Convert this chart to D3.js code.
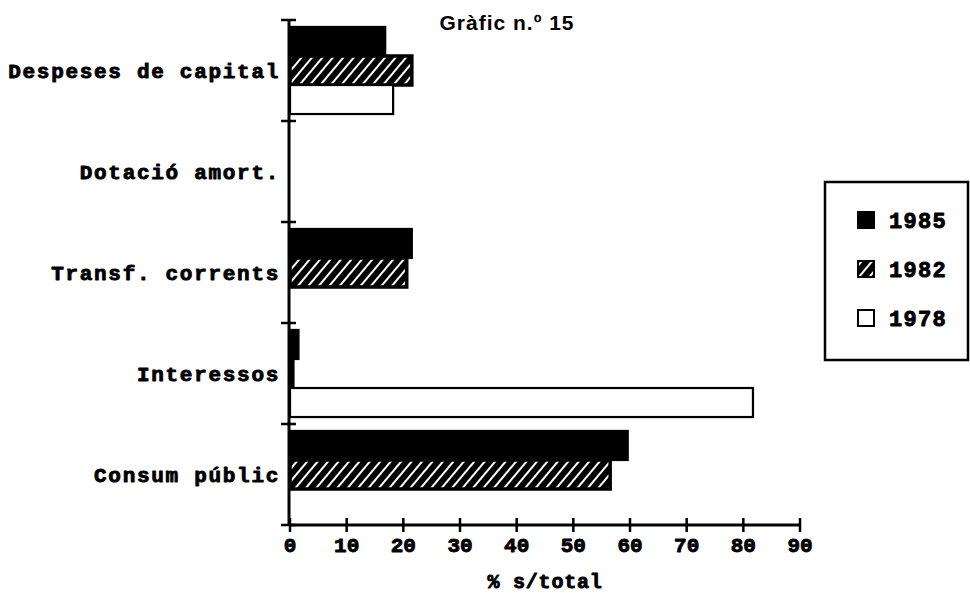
<!DOCTYPE html>
<html><head><meta charset="utf-8">
<script src="https://cdn.jsdelivr.net/npm/d3@7"></script>
<style>body{margin:0;background:#fff}svg{display:block}
.heavy{paint-order:stroke;stroke:#000;stroke-width:0.9px;stroke-linejoin:round}</style>
</head><body>
<svg id="c" width="970" height="593"></svg>
<script>
const categories = ["Despeses de capital","Dotació amort.","Transf. corrents","Interessos","Consum públic"];
const series = ["1985","1982","1978"];
const v1985 = [16.8, null, 21.5, 1.5, 59.6];
const v1982 = [21.5, null, 20.6, 0.5, 56.5];
const v1978 = [18.2, null, null, 81.7, null];
const xTicks = [0,10,20,30,40,50,60,70,80,90];
const title = "Gràfic n.º  15";
const xTitle = "% s/total";

const values = {"1985": v1985, "1982": v1982, "1978": v1978};
const svg = d3.select("#c");
const mono = "'Liberation Mono','DejaVu Sans Mono',monospace";

const x = d3.scaleLinear().domain([0,90]).range([290,800]);
const y = d3.scaleBand().domain(categories).range([20,525]).paddingInner(0).paddingOuter(0);
const sub = d3.scaleBand().domain(series).range([0,y.bandwidth()]).paddingInner(0).paddingOuter(0.24);

const defs = svg.append("defs");
const pat = defs.append("pattern").attr("id","hatch").attr("patternUnits","userSpaceOnUse")
  .attr("width",8).attr("height",8).attr("patternTransform","rotate(40)");
pat.append("rect").attr("width",8).attr("height",8).attr("fill","#000");
pat.append("line").attr("x1",4).attr("x2",4).attr("y1",0).attr("y2",8).attr("stroke","#fff").attr("stroke-width",2);

const fills = {"1985":"#000","1982":"url(#hatch)","1978":"#fff"};

const rows = [];
categories.forEach((c,i)=>series.forEach(s=>{ if(values[s][i]!=null) rows.push({c,s,v:values[s][i]}); }));

svg.append("g").selectAll("rect").data(rows).join("rect")
  .attr("x", x(0))
  .attr("y", d=> y(d.c)+sub(d.s))
  .attr("width", d=> x(d.v)-x(0))
  .attr("height", sub.bandwidth())
  .attr("fill", d=>fills[d.s])
  .attr("stroke","#000")
  .attr("stroke-width", d=> d.s==="1982"?3.5:2.2);

// Y axis
const yAxis = svg.append("g");
yAxis.append("line").attr("x1",289).attr("x2",289).attr("y1",y.range()[0]).attr("y2",y.range()[1])
  .attr("stroke","#000").attr("stroke-width",3);
const yTickPos = categories.map(c=>y(c)).concat([y.range()[1]]);
yAxis.selectAll("line.t").data(yTickPos).join("line").attr("class","t")
  .attr("x1",281).attr("x2",296).attr("y1",d=>d).attr("y2",d=>d)
  .attr("stroke","#000").attr("stroke-width",2.5);
yAxis.selectAll("text").data(categories).join("text").attr("class","heavy")
  .attr("x",280).attr("y",d=>y(d)+y.bandwidth()/2).attr("dy","0.35em")
  .attr("text-anchor","end").attr("font-family",mono).attr("font-weight","bold")
  .attr("font-size",21).attr("letter-spacing",1.7).text(d=>d);

// X axis
const xAxis = svg.append("g");
xAxis.append("line").attr("x1",x(0)-1).attr("x2",x(90)).attr("y1",525).attr("y2",525)
  .attr("stroke","#000").attr("stroke-width",3);
xAxis.selectAll("line.t").data(xTicks).join("line").attr("class","t")
  .attr("x1",d=>x(d)).attr("x2",d=>x(d)).attr("y1",518).attr("y2",532)
  .attr("stroke","#000").attr("stroke-width",2.5);
xAxis.selectAll("text").data(xTicks).join("text").attr("class","heavy")
  .attr("x",d=>x(d)).attr("y",552).attr("text-anchor","middle")
  .attr("font-family",mono).attr("font-weight","bold").attr("font-size",21).text(d=>d);
svg.append("text").attr("class","heavy").attr("x",x(45)).attr("y",588).attr("text-anchor","middle")
  .attr("font-family",mono).attr("font-weight","bold").attr("font-size",20).attr("letter-spacing",0.8).text(xTitle);

// Title
svg.append("text").attr("x",507).attr("y",30).attr("text-anchor","middle")
  .attr("font-family","'Liberation Sans',Arial,sans-serif").attr("font-weight","bold").attr("font-size",21)
  .attr("letter-spacing",1).text(title);

// Legend
const lg = svg.append("g");
lg.append("rect").attr("x",825).attr("y",182).attr("width",143).attr("height",178)
  .attr("fill","#fff").attr("stroke","#000").attr("stroke-width",2.5);
const ly = d3.scalePoint().domain(series).range([220,318]);
lg.selectAll("rect.k").data(series).join("rect").attr("class","k")
  .attr("x",858).attr("y",d=>ly(d)-8).attr("width",16).attr("height",16)
  .attr("fill",d=>fills[d]).attr("stroke","#000").attr("stroke-width",2);
lg.selectAll("text").data(series).join("text").attr("class","heavy")
  .attr("x",889).attr("y",d=>ly(d)).attr("dy","0.35em")
  .attr("font-family",mono).attr("font-weight","bold").attr("font-size",22).attr("letter-spacing",1.3).text(d=>d);
</script>
</body></html>
